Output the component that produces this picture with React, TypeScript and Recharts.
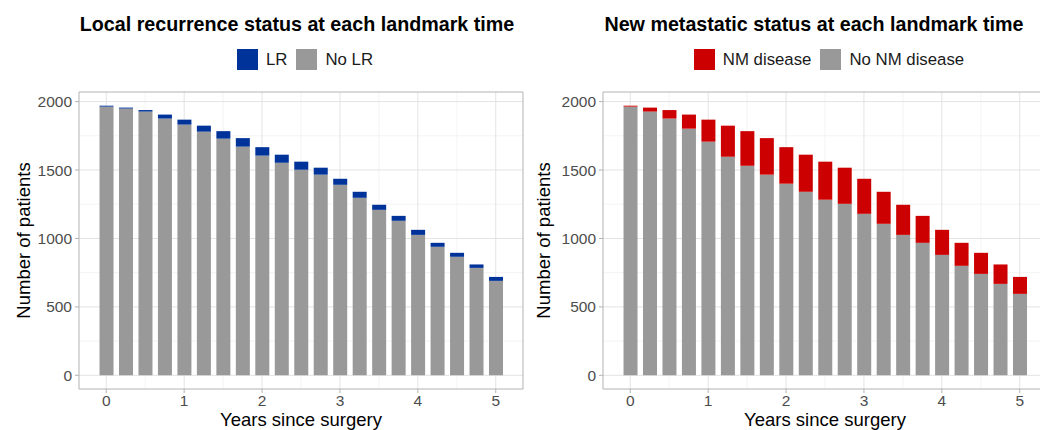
import React from 'react';
import { BarChart, Bar, XAxis, YAxis, CartesianGrid, ReferenceArea, Label } from 'recharts';

// landmark times (years since surgery)
const years = [0, 0.25, 0.5, 0.75, 1, 1.25, 1.5, 1.75, 2, 2.25, 2.5, 2.75, 3, 3.25, 3.5, 3.75, 4, 4.25, 4.5, 4.75, 5];

// local recurrence panel
const noLR = [1963, 1949, 1927, 1876, 1832, 1780, 1729, 1671, 1605, 1553, 1502, 1466, 1392, 1297, 1209, 1129, 1026, 939, 866, 785, 690];
const lr = [7, 7, 11, 29, 36, 44, 55, 62, 62, 59, 59, 51, 44, 44, 37, 36, 37, 29, 29, 25, 29];

// new metastasis panel
const noNM = [1963, 1927, 1876, 1802, 1707, 1597, 1531, 1466, 1400, 1341, 1283, 1253, 1180, 1107, 1026, 968, 880, 800, 741, 668, 595];
const nm = [7, 29, 62, 103, 161, 227, 253, 267, 267, 271, 278, 264, 256, 234, 220, 197, 183, 168, 154, 142, 124];

const xTicks = [0, 1, 2, 3, 4, 5];
const xMinor = [0.5, 1.5, 2.5, 3.5, 4.5];
const yTicks = [0, 500, 1000, 1500, 2000];
const yMinor = [250, 750, 1250, 1750];

const X_DOMAIN: [number, number] = [-0.35, 5.35];
const Y_DOMAIN: [number, number] = [-100, 2070];

const FONT = '"Liberation Sans", Arial, sans-serif';
const GREY = '#999999';

interface PanelProps {
  left: number;
  yAxisWidth: number;
  rightMargin: number;
  title: string;
  titleCenter: number;
  legendCenter: number;
  events: number[];
  noEvents: number[];
  eventLabel: string;
  noEventLabel: string;
  color: string;
}

const Panel: React.FC<PanelProps> = ({
  left, yAxisWidth, rightMargin, title, titleCenter, legendCenter,
  events, noEvents, eventLabel, noEventLabel, color,
}) => {
  const data = years.map((t, i) => ({ t, no: noEvents[i], yes: events[i] }));
  const width = 540;

  const swatch = (c: string) => (
    <span style={{ display: 'inline-block', width: 21, height: 21, background: c, marginRight: 8 }} />
  );

  return (
    <>
      <div style={{
        position: 'absolute', top: 14, left: titleCenter - 300, width: 600, textAlign: 'center',
        fontSize: 19.7, lineHeight: '20px', fontWeight: 'bold', color: '#000',
      }}>{title}</div>
      <div style={{
        position: 'absolute', top: 49, left: legendCenter - 250, width: 500, height: 21,
        display: 'flex', justifyContent: 'center', alignItems: 'center', fontSize: 16.8, color: '#1a1a1a',
      }}>
        {swatch(color)}
        <span style={{ marginRight: 9 }}>{eventLabel}</span>
        {swatch(GREY)}
        <span>{noEventLabel}</span>
      </div>
      <div style={{ position: 'absolute', top: 0, left }}>
        <BarChart width={width} height={430} data={data}
          margin={{ top: 92, right: rightMargin, bottom: 0, left: 0 }}>
          <CartesianGrid stroke="#efefef" strokeWidth={0.7}
            horizontalValues={yMinor} verticalValues={xMinor} />
          <CartesianGrid stroke="#e3e3e3" strokeWidth={1}
            horizontalValues={yTicks} verticalValues={xTicks} />
          <XAxis type="number" dataKey="t" domain={X_DOMAIN} ticks={xTicks} allowDataOverflow
            height={41} axisLine={false} tickSize={4} tickMargin={2}
            tickLine={{ stroke: '#b3b3b3' }}
            tick={{ fill: '#4d4d4d', fontSize: 15.5, fontFamily: FONT }}>
            <Label content={({ viewBox }: any) => (
              <text x={viewBox.x + viewBox.width / 2} y={viewBox.y + 37} textAnchor="middle"
                fontSize={18.5} fontFamily={FONT} fill="#000">Years since surgery</text>
            )} />
          </XAxis>
          <YAxis type="number" domain={Y_DOMAIN} ticks={yTicks} allowDataOverflow
            width={yAxisWidth} axisLine={false} tickSize={4} tickMargin={3}
            tickLine={{ stroke: '#b3b3b3' }}
            tick={{ fill: '#4d4d4d', fontSize: 15.5, fontFamily: FONT }}>
            <Label content={({ viewBox }: any) => {
              const cx = viewBox.x + 30;
              const cy = viewBox.y + viewBox.height / 2;
              return (
                <text x={cx} y={cy} transform={`rotate(-90 ${cx} ${cy})`} textAnchor="middle"
                  fontSize={18.5} fontFamily={FONT} fill="#000">Number of patients</text>
              );
            }} />
          </YAxis>
          <Bar dataKey="no" stackId="s" fill={GREY} barSize={14} isAnimationActive={false} />
          <Bar dataKey="yes" stackId="s" fill={color} barSize={14} isAnimationActive={false} />
          <ReferenceArea x1={X_DOMAIN[0]} x2={X_DOMAIN[1]} y1={Y_DOMAIN[0]} y2={Y_DOMAIN[1]}
            fill="none" stroke="#b3b3b3" strokeWidth={1} />
        </BarChart>
      </div>
    </>
  );
};

export default function App() {
  return (
    <div style={{
      position: 'absolute', top: 0, left: 0, width: 1040, height: 430, overflow: 'hidden',
      background: '#fff', fontFamily: FONT,
    }}>
      <Panel left={0} yAxisWidth={79} rightMargin={17}
        title="Local recurrence status at each landmark time" titleCenter={297} legendCenter={305}
        events={lr} noEvents={noLR} eventLabel="LR" noEventLabel="No LR" color="#003399" />
      <Panel left={520} yAxisWidth={83} rightMargin={13}
        title="New metastatic status at each landmark time" titleCenter={814} legendCenter={829}
        events={nm} noEvents={noNM} eventLabel="NM disease" noEventLabel="No NM disease" color="#cc0000" />
    </div>
  );
}
